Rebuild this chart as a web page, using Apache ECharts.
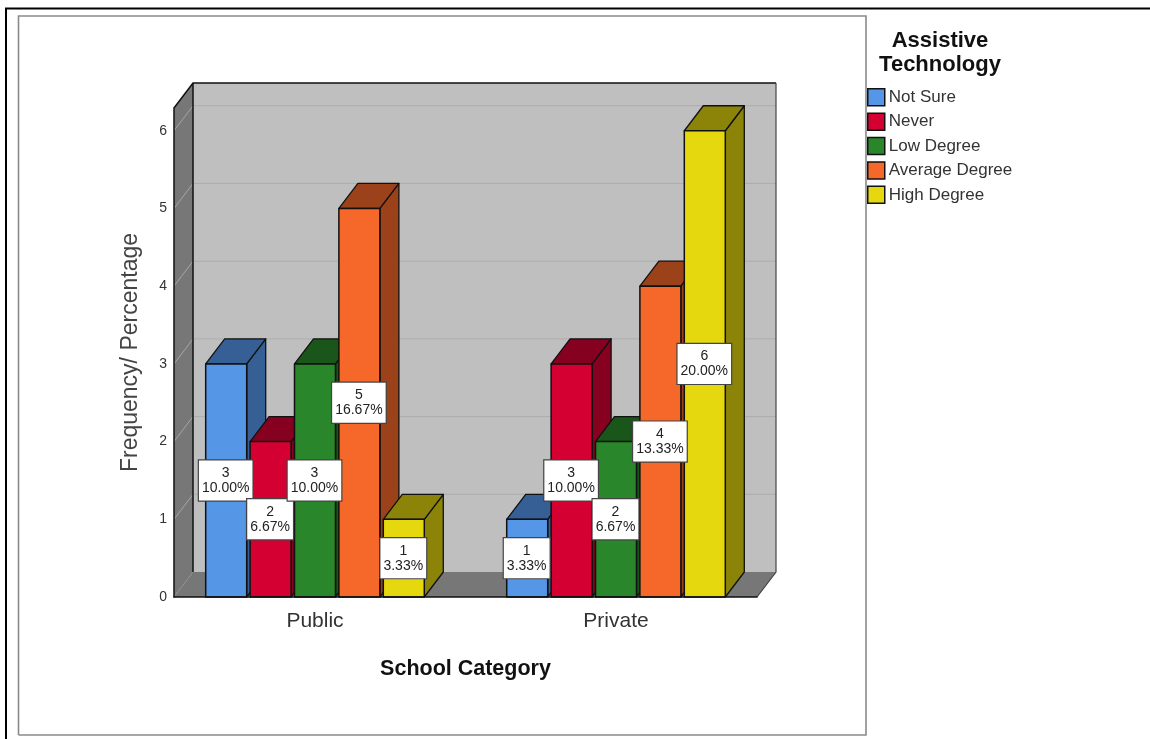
<!DOCTYPE html>
<html><head><meta charset="utf-8">
<style>html,body{margin:0;padding:0;background:#fff}#c{width:1150px;height:739px}</style>
<script src="https://cdn.jsdelivr.net/npm/echarts@6/dist/echarts.min.js"></script>
</head><body><div id="c"></div>
<script>
const categories = ['Public', 'Private'];
const seriesNames = ['Not Sure', 'Never', 'Low Degree', 'Average Degree', 'High Degree'];
const notSure = [3, 1];
const never = [2, 3];
const lowDegree = [3, 2];
const averageDegree = [5, 4];
const highDegree = [1, 6];
const percentLabels = [
  ['10.00%', '3.33%'], ['6.67%', '10.00%'], ['10.00%', '6.67%'], ['16.67%', '13.33%'], ['3.33%', '20.00%']
];
const yTicks = [0, 1, 2, 3, 4, 5, 6];
const frontColors = ['#5596E6', '#D50032', '#2A862A', '#F5682A', '#E6D80F'];
const darkColors = ['#365F96', '#860020', '#1A551A', '#9C421B', '#8C8408'];

const values = [notSure, never, lowDegree, averageDegree, highDegree];
const FONT = '"Liberation Sans", Arial, sans-serif';
const xMin = -0.4684, xMax = 1.4684, yMax = 6.293;
const depthX = 19 / 301, depthY = 25 / 77.7;   // oblique depth in data units
const barStep = 0.1475, barWidth = 0.1362;

function poly(pts, fill, stroke, lw, z2) {
  return { type: 'polygon', shape: { points: pts }, z2: z2,
    style: { fill: fill, stroke: stroke || null, lineWidth: lw || 0, lineJoin: 'round' } };
}
function line(pts, stroke, lw, z2) {
  return { type: 'polyline', shape: { points: pts }, z2: z2, style: { fill: null, stroke: stroke, lineWidth: lw } };
}

function renderWalls(params, api) {
  const f = (x, y) => api.coord([x, y]);
  const b = (x, y) => api.coord([x + depthX, y + depthY]);
  const kids = [
    poly([b(xMin, 0), b(xMax, 0), b(xMax, yMax), b(xMin, yMax)], '#BFBFBF', null, 0, 1),
    poly([f(xMin, 0), b(xMin, 0), b(xMin, yMax), f(xMin, yMax)], '#777777', null, 0, 1),
    poly([f(xMin, 0), f(xMax, 0), b(xMax, 0), b(xMin, 0)], '#777777', null, 0, 1)
  ];
  yTicks.slice(1).forEach(k => {
    kids.push(line([f(xMin, k), b(xMin, k)], '#A6A6A6', 1, 2));
    kids.push(line([b(xMin, k), b(xMax, k)], '#ADADAD', 1, 2));
  });
  kids.push(line([f(xMin, yMax), b(xMin, yMax), b(xMax, yMax)], '#111', 1.5, 3));
  kids.push(line([b(xMin, yMax), b(xMin, 0)], '#111', 1.5, 3));
  kids.push(line([b(xMax, yMax), b(xMax, 0), f(xMax, 0)], '#444', 1.2, 3));
  return { type: 'group', children: kids };
}

function makeBarRenderer(si) {
  return function (params, api) {
    const cat = api.value(0), val = api.value(1);
    const c = cat + (si - 2) * barStep;
    const x0 = c - barWidth / 2, x1 = c + barWidth / 2;
    const f = (x, y) => api.coord([x, y]);
    const b = (x, y) => api.coord([x + depthX, y + depthY]);
    const base = 10 + si * 3 + cat * 15;
    const mid = f(c, val / 2);
    return { type: 'group', children: [
      poly([f(x1, 0), b(x1, 0), b(x1, val), f(x1, val)], darkColors[si], '#111', 1.3, base),
      poly([f(x0, val), f(x1, val), b(x1, val), b(x0, val)], darkColors[si], '#111', 1.3, base),
      poly([f(x0, 0), f(x1, 0), f(x1, val), f(x0, val)], frontColors[si], '#111', 1.5, base + 1),
      { type: 'text', z2: 100, x: mid[0] - 0.5, y: mid[1], style: {
        text: val + '\n' + percentLabels[si][cat],
        align: 'center', verticalAlign: 'middle',
        font: '14px ' + FONT, lineHeight: 15, fill: '#222',
        backgroundColor: '#fff', borderColor: '#444', borderWidth: 1.2, padding: [5, 3, 5, 3]
      } }
    ] };
  };
}

const series = [{
  type: 'custom', name: 'walls', silent: true, z: 1, clip: false,
  data: [[0, 0]], encode: { x: 0, y: 1 }, renderItem: renderWalls
}];
seriesNames.forEach((name, si) => {
  series.push({
    type: 'custom', name: name, z: 2, clip: false,
    itemStyle: { color: frontColors[si] },
    data: values[si].map((v, i) => [i, v]),
    encode: { x: 0, y: 1 },
    renderItem: makeBarRenderer(si)
  });
});

const chart = echarts.init(document.getElementById('c'), null, { renderer: 'canvas', width: 1150, height: 739 });
chart.setOption({
  animation: false,
  backgroundColor: '#fff',
  textStyle: { fontFamily: FONT },
  grid: { left: 174, right: 393, top: 108, bottom: 142, containLabel: false },
  xAxis: {
    type: 'value', min: xMin, max: xMax,
    name: 'School Category', nameLocation: 'middle', nameGap: 61,
    nameTextStyle: { fontFamily: FONT, fontWeight: 'bold', fontSize: 21.5, color: '#111' },
    axisLine: { show: true, onZero: false, lineStyle: { color: '#111', width: 1.5 } },
    z: 10,
    axisTick: { show: false }, splitLine: { show: false },
    axisLabel: { customValues: [0, 1], formatter: v => categories[v], fontFamily: FONT, fontSize: 21, color: '#333', margin: 14 }
  },
  yAxis: {
    type: 'value', min: 0, max: yMax,
    name: 'Frequency/ Percentage', nameLocation: 'middle', nameGap: 32, nameRotate: 90,
    nameTextStyle: { fontFamily: FONT, fontSize: 23, color: '#444' },
    axisLine: { show: true, onZero: false, lineStyle: { color: '#111', width: 1.5 } },
    z: 10,
    axisTick: { show: false }, splitLine: { show: false },
    axisLabel: { customValues: yTicks, fontFamily: FONT, fontSize: 14, color: '#333', margin: 7 }
  },
  legend: {
    orient: 'vertical', left: 867, top: 88, itemWidth: 17, itemHeight: 17, itemGap: 5.9, itemStyle: { borderColor: '#111', borderWidth: 1.5 },
    icon: 'rect', selectedMode: false, padding: 0,
    data: seriesNames,
    textStyle: { fontFamily: FONT, fontSize: 17, color: '#333', padding: [5, 0, 0, -1] }
  },
  title: {
    text: 'Assistive\nTechnology', left: 940, top: 28.5, textAlign: 'center', padding: 0,
    textStyle: { fontFamily: FONT, fontWeight: 'bold', fontSize: 22, lineHeight: 24, color: '#111' }
  },
  graphic: [
    { type: 'polyline', shape: { points: [[6, 739], [6, 8.5], [1150, 8.5]] }, style: { fill: null, stroke: '#000', lineWidth: 2 }, z: 0 },
    { type: 'polyline', shape: { points: [[18.5, 735], [18.5, 16], [866, 16], [866, 735], [18.5, 735]] }, style: { fill: null, stroke: '#8A8A8A', lineWidth: 1.6 }, z: 0 }
  ],
  series: series
});
</script></body></html>
